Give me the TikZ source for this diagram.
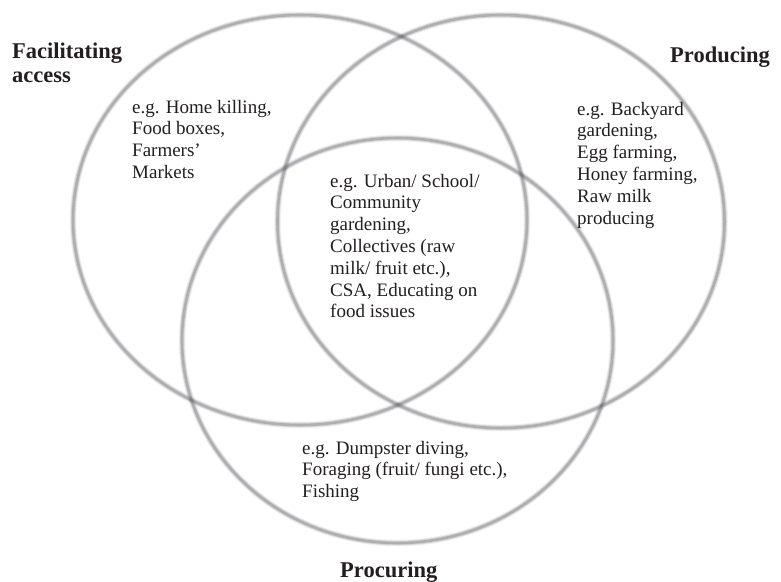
\documentclass[tikz,border=0pt]{standalone}
\usepackage{fontspec}
\setmainfont{Liberation Serif}
\begin{document}
\begin{tikzpicture}[x=1pt, y=-1pt,
  ring/.style={draw=ringgray, fill=none},
  label/.style={inner sep=0pt, anchor=base west, align=left, text=inkc,
    font=\fontsize{19}{21.8}\selectfont},
  heading/.style={inner sep=0pt, text=inkc,
    font=\fontsize{22.5}{24}\selectfont\bfseries, align=left}]
\definecolor{ringgray}{RGB}{58,58,66}
\definecolor{inkc}{RGB}{35,31,32}
\useasboundingbox (0,0) rectangle (781,581);
\fill[white] (0,0) rectangle (781,581);

% three soft-edged rings, each drawn as stacked translucent strokes
\foreach \cx/\cy/\rx/\ry in {300/220/227/205, 501/221.5/223.5/206.5, 397.5/340.5/215.5/202.5}{
  \draw[ring, line width=6.5pt, opacity=0.08] (\cx,\cy) ellipse [x radius=\rx, y radius=\ry];
  \draw[ring, line width=4.5pt, opacity=0.15] (\cx,\cy) ellipse [x radius=\rx, y radius=\ry];
  \draw[ring, line width=2.6pt, opacity=0.24] (\cx,\cy) ellipse [x radius=\rx, y radius=\ry];
}

% set names (anchored on the baseline of the last line)
\node[heading, anchor=base west] (fac) at (12,82) {Facilitating\\access};
\node[heading, anchor=base east] (pro) at (770,62) {Producing};
\node[heading, anchor=base west] (proc) at (340,577) {Procuring};

% examples in each region (anchored on the baseline of the last line)
\node[label] (facex) at (132,178.4) {e.g. Home killing,\\Food boxes,\\Farmers’\\Markets};
\node[label] (mid) at (330,317.8) {e.g. Urban/ School/\\Community\\gardening,\\Collectives (raw\\milk/ fruit etc.),\\CSA, Educating on\\food issues};
\node[label] (prodex) at (577,224) {e.g. Backyard\\gardening,\\Egg farming,\\Honey farming,\\Raw milk\\producing};
\node[label] (procex) at (302,497.6) {e.g. Dumpster diving,\\Foraging (fruit/ fungi etc.),\\Fishing};
\end{tikzpicture}
\end{document}
